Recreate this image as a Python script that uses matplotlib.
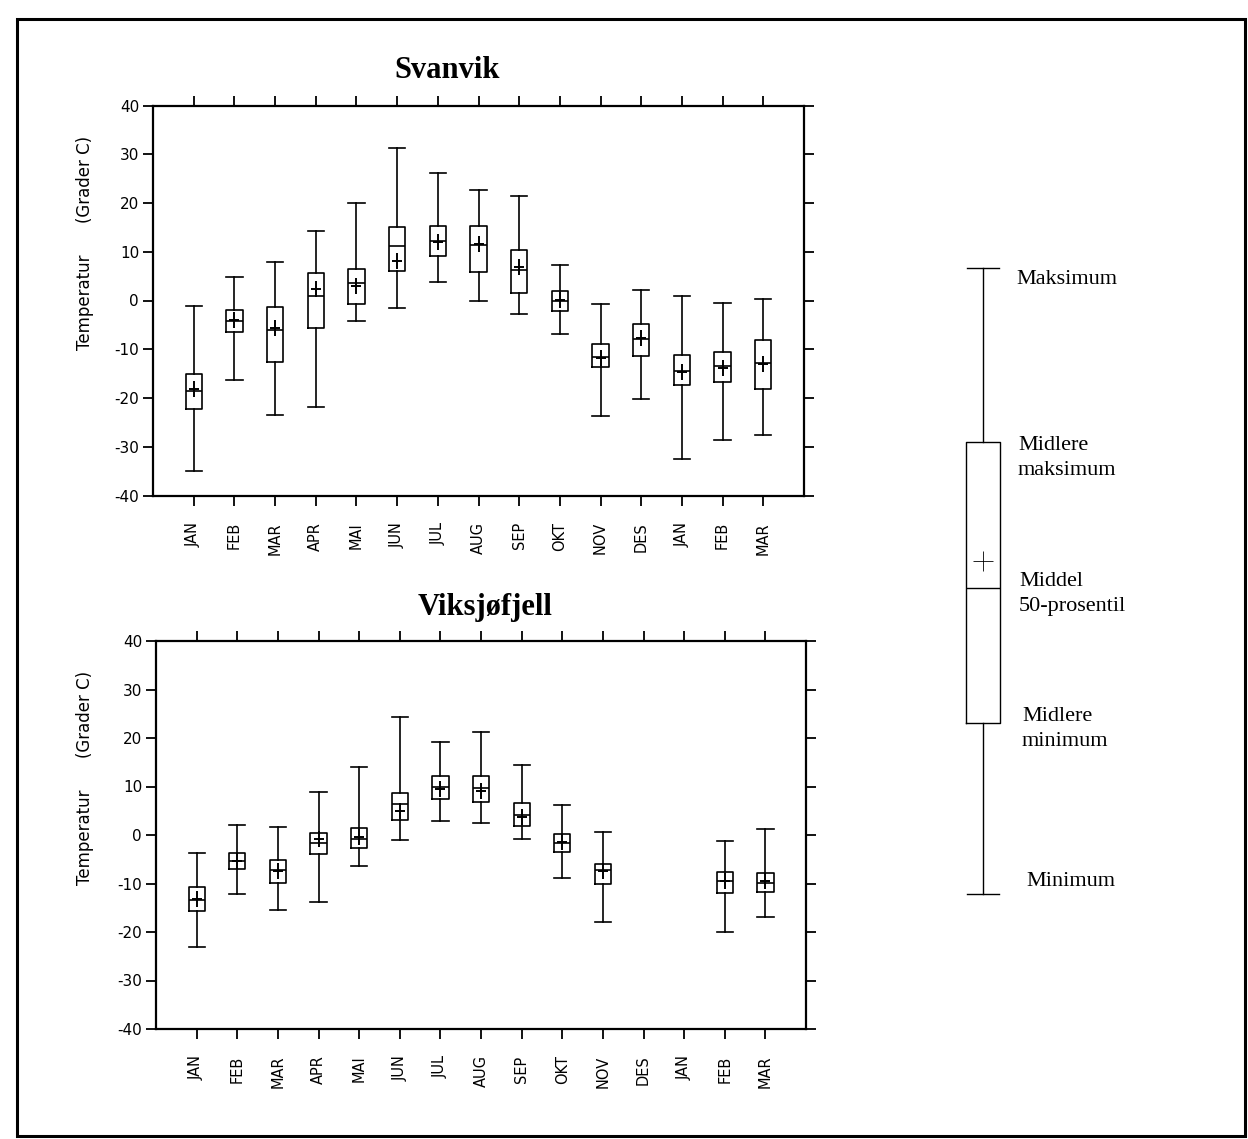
import matplotlib
matplotlib.use('Agg')
import matplotlib.pyplot as plt
from matplotlib.path import Path
from matplotlib.patches import Rectangle

months = ['JAN', 'FEB', 'MAR', 'APR', 'MAI', 'JUN', 'JUL', 'AUG', 'SEP',
          'OKT', 'NOV', 'DES', 'JAN', 'FEB', 'MAR']

# Svanvik, grader C
sv_maks      = [-1.1, 4.8, 7.8, 14.3, 20.0, 31.2, 26.1, 22.6, 21.4, 7.3, -0.7, 2.2, 0.9, -0.5, 0.3]
sv_midl_maks = [-15.0, -2.0, -1.4, 5.7, 6.5, 15.0, 15.2, 15.3, 10.4, 2.0, -9.0, -4.8, -11.1, -10.6, -8.2]
sv_median    = [-18.6, -4.3, -6.0, 0.9, 3.6, 11.2, 12.2, 11.3, 6.2, 0.0, -11.5, -7.8, -14.5, -13.5, -12.9]
sv_middel    = [-18.2, -4.1, -5.7, 2.3, 3.0, 8.1, 12.0, 11.5, 6.9, 0.1, -11.8, -7.6, -14.6, -13.9, -13.0]
sv_midl_min  = [-22.3, -6.5, -12.7, -5.6, -0.7, 6.1, 9.2, 5.8, 1.6, -2.2, -13.6, -11.3, -17.4, -16.8, -18.2]
sv_min       = [-35.0, -16.4, -23.5, -21.9, -4.3, -1.6, 3.7, -0.1, -2.8, -6.9, -23.7, -20.2, -32.5, -28.6, -27.5]

# Viksjøfjell, grader C (ingen data for DES og JAN)
vf_maks      = [-3.7, 2.0, 1.7, 8.9, 14.0, 24.4, 19.2, 21.2, 14.5, 6.2, 0.7, None, None, -1.2, 1.3]
vf_midl_maks = [-10.8, -3.8, -5.1, 0.5, 1.5, 8.6, 12.1, 12.2, 6.6, 0.2, -5.9, None, None, -7.6, -7.8]
vf_median    = [-13.3, -5.3, -7.3, -1.6, -0.8, 6.4, 9.9, 9.6, 4.2, -1.6, -7.3, None, None, -9.5, -9.9]
vf_middel    = [-13.2, -5.3, -7.5, -0.8, -0.4, 5.0, 9.4, 9.1, 3.8, -1.4, -7.5, None, None, -9.5, -9.5]
vf_midl_min  = [-15.7, -7.0, -9.8, -4.0, -2.6, 3.1, 7.5, 6.9, 1.8, -3.5, -10.0, None, None, -11.9, -11.7]
vf_min       = [-23.0, -12.2, -15.4, -13.8, -6.4, -1.0, 2.8, 2.4, -0.9, -8.8, -17.9, None, None, -20.1, -17.0]

# forklaring (skjematisk boks)
leg_stat = dict(whishi=652, q3=478, mean=359, med=332, q1=197, whislo=26)
leg_labels = ['Maksimum', 'Midlere\nmaksimum', 'Middel\n50-prosentil', 'Midlere\nminimum', 'Minimum']

W, H = 1248, 1139
fig = plt.figure(figsize=(W / 100, H / 100), dpi=100)

# kors for middelverdi, litt hoeyere enn bredt
cross = Path([(-0.6, 0), (0.6, 0), (0, -1), (0, 1)],
             [Path.MOVETO, Path.LINETO, Path.MOVETO, Path.LINETO])


def px_axes(x0, y0, x1, y1):
    return fig.add_axes([x0 / W, 1 - y1 / H, (x1 - x0) / W, (y1 - y0) / H])


def box_panel(ax, maks, mmaks, med, mid, mmin, mini):
    stats, pos = [], []
    for i in range(len(months)):
        if maks[i] is None:
            continue
        stats.append(dict(whishi=maks[i], q3=mmaks[i], med=med[i], mean=mid[i],
                          q1=mmin[i], whislo=mini[i], fliers=[]))
        pos.append(i + 1)
    ax.bxp(stats, positions=pos, widths=0.4, capwidths=0.4, showmeans=True,
           boxprops=dict(color='black', lw=1.2),
           whiskerprops=dict(color='black', lw=1.2),
           capprops=dict(color='black', lw=1.2),
           medianprops=dict(color='black', lw=1.2),
           meanprops=dict(marker=cross, markersize=12, markeredgecolor='black',
                          markeredgewidth=1.4, linestyle='none'))
    ax.set_xlim(0, 16)
    ax.set_ylim(-40, 40)
    ax.set_xticks(range(1, 16))
    ax.set_xticklabels(months, rotation=90, fontsize=10.5, family='DejaVu Sans')
    ax.set_yticks(range(-40, 41, 10))
    ax.set_yticklabels([str(v) for v in range(-40, 41, 10)], fontsize=11)
    ax.tick_params(axis='x', top=True, bottom=True, direction='out',
                   length=7, width=1.3, pad=12)
    ax.tick_params(axis='y', left=True, right=True, direction='out',
                   length=7, width=1.3, pad=3)
    for s in ax.spines.values():
        s.set_linewidth(1.6)


ax1 = px_axes(153, 105.5, 804, 495.5)
box_panel(ax1, sv_maks, sv_midl_maks, sv_median, sv_middel, sv_midl_min, sv_min)

ax2 = px_axes(156, 641, 806, 1029)
box_panel(ax2, vf_maks, vf_midl_maks, vf_median, vf_middel, vf_midl_min, vf_min)

fig.text(447 / W, 1 - 70 / H, 'Svanvik', ha='center', va='center',
         family='Liberation Serif', weight='bold', fontsize=22)
fig.text(485 / W, 1 - 607 / H, 'Viksjøfjell', ha='center', va='center',
         family='Liberation Serif', weight='bold', fontsize=22)

for yc in (243, 778):
    fig.text(85 / W, 1 - yc / H, 'Temperatur      (Grader C)', rotation=90,
             ha='center', va='center', fontsize=12)

# forklaring til hoeyre
axl = px_axes(940, 250, 1240, 920)
axl.bxp([dict(leg_stat, fliers=[])], positions=[43], widths=34, capwidths=32,
        showmeans=True,
        boxprops=dict(color='black', lw=1.0),
        whiskerprops=dict(color='black', lw=1.0),
        capprops=dict(color='black', lw=1.0),
        medianprops=dict(color='black', lw=1.0),
        meanprops=dict(marker='+', markersize=15, markeredgecolor='black',
                       markeredgewidth=0.6, linestyle='none'))
axl.set_xlim(0, 300)
axl.set_ylim(0, 670)
axl.axis('off')
for txt, (x, y) in zip(leg_labels, [(76, 640), (78, 462), (79, 326), (82, 191), (86, 39)]):
    axl.text(x, y, txt, ha='left', va='center', family='Liberation Serif',
             fontsize=16, linespacing=1.4)

# ramme rundt hele figuren
fig.patches.append(Rectangle((17 / W, 1 - 1136 / H), 1228 / W, 1117 / H,
                             transform=fig.transFigure, fill=False,
                             edgecolor='black', lw=2.2))

fig.savefig('out.png', dpi=100)
